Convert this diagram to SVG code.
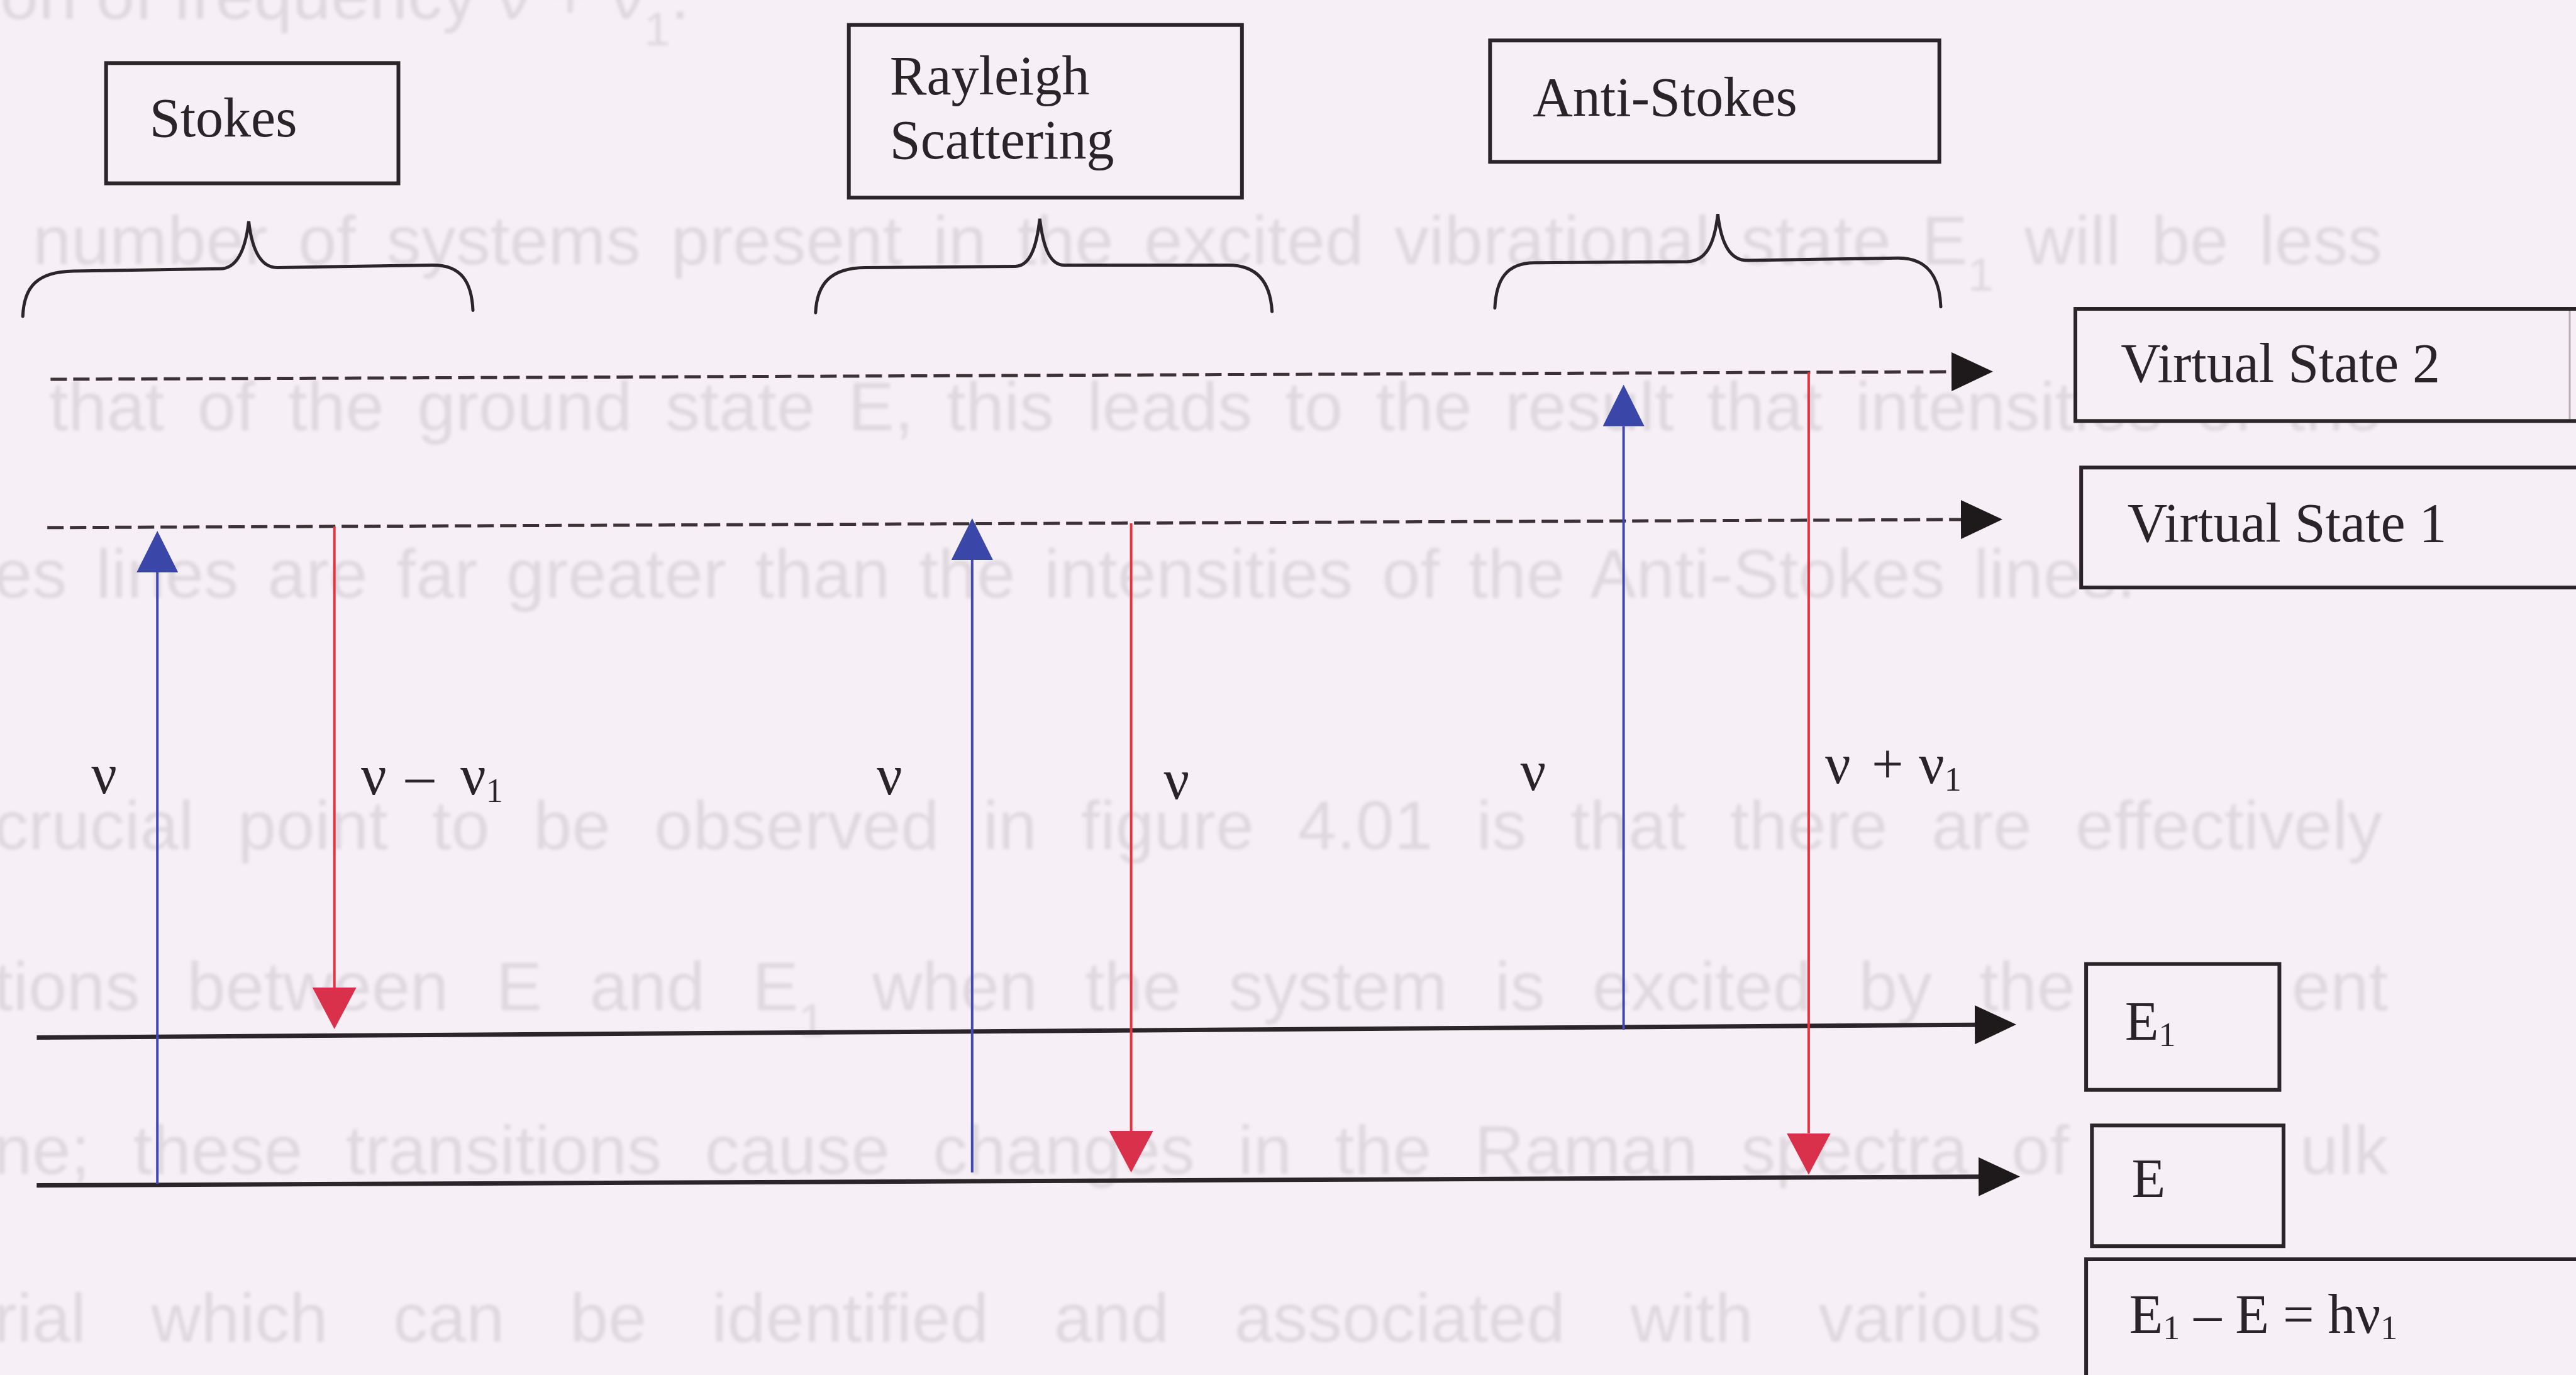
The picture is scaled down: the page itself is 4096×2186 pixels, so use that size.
<svg xmlns="http://www.w3.org/2000/svg" width="4096" height="2186" viewBox="0 0 4096 2186">
<style>
.bg{fill:#f6f0f6}
.ghost{font-family:"Liberation Sans",Arial,sans-serif;font-size:110px;fill:#dfd8df}
.bx{fill:#f6f0f6;stroke:#2b2428;stroke-width:6}
.lbl{font-family:"Liberation Serif","Times New Roman",serif;font-size:88px;fill:#2a2428}
.nu{font-family:"Liberation Serif","Times New Roman",serif;font-size:90px;fill:#2a2428}
.sub{font-size:54px}
.dash{stroke:#3a3236;stroke-width:5;stroke-dasharray:26 10;fill:none}
.lvl{stroke:#2b2428;stroke-width:7;fill:none}
.brace{stroke:#2b2428;stroke-width:5;fill:none;stroke-linecap:round}
.up{stroke:#4348b2;stroke-width:4;fill:none}
.dn{stroke:#e5333f;stroke-width:4;fill:none}
</style>
<defs>
<filter id="soft" x="-5%" y="-50%" width="110%" height="200%"><feGaussianBlur stdDeviation="2.5"/></filter>
<marker id="ak" markerUnits="userSpaceOnUse" markerWidth="66" markerHeight="62" refX="0" refY="31" orient="auto"><path d="M0,0 L66,31 L0,62 z" fill="#1e1a1c"/></marker>
<marker id="ab" markerUnits="userSpaceOnUse" markerWidth="66" markerHeight="66" refX="0" refY="33" orient="auto"><path d="M0,0 L66,33 L0,66 z" fill="#3a47a8"/></marker>
<marker id="ar" markerUnits="userSpaceOnUse" markerWidth="66" markerHeight="70" refX="0" refY="35" orient="auto"><path d="M0,0 L66,35 L0,70 z" fill="#d9304c"/></marker>
</defs>
<rect class="bg" x="0" y="0" width="4096" height="2186"/>

<g id="background-text" class="ghost" filter="url(#soft)">
<text x="0" y="30">on of frequency ν + ν<tspan baseline-shift="sub" font-size="75">1</tspan>.</text>
<text x="52" y="420" word-spacing="18" textLength="3736" lengthAdjust="spacing">number of systems present in the excited vibrational state E<tspan baseline-shift="sub" font-size="75">1</tspan> will be less</text>
<text x="78" y="684" word-spacing="22" textLength="3710" lengthAdjust="spacing">that of the ground state E, this leads to the result that intensities of the</text>
<text x="-10" y="950" word-spacing="15" textLength="3406" lengthAdjust="spacing">es lines are far greater than the intensities of the Anti-Stokes lines.</text>
<text x="-10" y="1350" word-spacing="39" textLength="3798" lengthAdjust="spacing">crucial point to be observed in figure 4.01 is that there are effectively</text>
<text x="-10" y="1606" word-spacing="45" textLength="3310" lengthAdjust="spacing">tions between E and E<tspan baseline-shift="sub" font-size="75">1</tspan> when the system is excited by the</text>
<text x="3644" y="1606">ent</text>
<text x="-10" y="1866" word-spacing="38" textLength="3300" lengthAdjust="spacing">ne; these transitions cause changes in the Raman spectra of</text>
<text x="3657" y="1866">ulk</text>
<text x="-10" y="2133" word-spacing="73" textLength="3256" lengthAdjust="spacing">rial which can be identified and associated with various</text>
</g>

<g id="braces">
<path class="brace" d="M36.3,503 C38,455 60,432 116.7,431 L350,427.3 C375,427 390,400 395.5,351.7 C401,400 416,425.4 441,425.4 L687,421.6 C735,421 750,450 752,493.4"/>
<path class="brace" d="M1296.8,497.2 C1299,450 1322,426 1374.5,425.4 L1614.4,423.5 C1637,423 1648,395 1653.3,347.9 C1659,395 1670,421.6 1692.3,421.6 L1951.5,421.6 C2000,421 2020,450 2022.6,495.3"/>
<path class="brace" d="M2376.9,489.7 C2379,445 2395,418 2439.9,417.8 L2682.9,415.9 C2712,415 2726,390 2731.4,340.3 C2737,390 2752,414 2778.7,414 L3017.7,410.2 C3065,410 3084,440 3086,487.8"/>
</g>

<g id="node-stokes">
<rect class="bx" x="168.7" y="100.3" width="464.8" height="191.2"/>
<text class="lbl" x="237.7" y="216.8">Stokes</text>
</g>
<g id="node-rayleigh">
<rect class="bx" x="1349.7" y="39.7" width="625.1" height="274.5"/>
<text class="lbl" x="1414.8" y="149.7">Rayleigh</text>
<text class="lbl" x="1414.8" y="251.8">Scattering</text>
</g>
<g id="node-antistokes">
<rect class="bx" x="2369.3" y="64.3" width="714.4" height="193"/>
<text class="lbl" x="2437.2" y="183.6">Anti-Stokes</text>
</g>
<g id="node-vs2">
<rect class="bx" x="3300" y="491" width="830" height="178.3"/>
<line x1="4086" y1="494" x2="4086" y2="666" stroke="#b8b0b6" stroke-width="3"/>
<text class="lbl" x="3372.2" y="607.1">Virtual State 2</text>
</g>
<g id="node-vs1">
<rect class="bx" x="3309.2" y="743.3" width="830" height="190.7"/>
<text class="lbl" x="3382.7" y="861">Virtual State 1</text>
</g>
<g id="node-e1">
<rect class="bx" x="3317.1" y="1532.6" width="307.3" height="200.1"/>
<text class="lbl" x="3378.7" y="1653.4">E<tspan class="sub" dy="10">1</tspan></text>
</g>
<g id="node-e">
<rect class="bx" x="3326.3" y="1789.3" width="304.6" height="191.9"/>
<text class="lbl" x="3389.4" y="1903.2">E</text>
</g>
<g id="node-eq">
<rect class="bx" x="3317.1" y="2002" width="830" height="260"/>
<text class="lbl" x="3385.4" y="2119.2">E<tspan class="sub" dy="10">1</tspan><tspan dy="-10"> – E = hν</tspan><tspan class="sub" dy="10">1</tspan></text>
</g>

<g id="connectors">
<line class="dash" x1="80.4" y1="603" x2="3103" y2="591" marker-end="url(#ak)"/>
<line class="dash" x1="75.2" y1="838.8" x2="3118" y2="826" marker-end="url(#ak)"/>
<line class="lvl" x1="58.5" y1="1649.6" x2="3140" y2="1629.2" marker-end="url(#ak)"/>
<line class="lvl" x1="58.3" y1="1884.6" x2="3146" y2="1870.8" marker-end="url(#ak)"/>
<line class="up" x1="250.2" y1="1882" x2="250.2" y2="910" marker-end="url(#ab)"/>
<line class="dn" x1="531.7" y1="837" x2="531.7" y2="1570" marker-end="url(#ar)"/>
<line class="up" x1="1545.8" y1="1864" x2="1545.8" y2="890" marker-end="url(#ab)"/>
<line class="dn" x1="1798.6" y1="832" x2="1798.6" y2="1798" marker-end="url(#ar)"/>
<line class="up" x1="2581.6" y1="1637" x2="2581.6" y2="677.5" marker-end="url(#ab)"/>
<line class="dn" x1="2875.9" y1="592" x2="2875.9" y2="1801.5" marker-end="url(#ar)"/>
</g>

<g id="labels">
<text class="nu" x="145.2" y="1261">ν</text>
<text class="nu" y="1263.3"><tspan x="574">ν</tspan><tspan x="645">–</tspan><tspan x="732">ν</tspan><tspan class="sub" dy="12">1</tspan></text>
<text class="nu" x="1394" y="1263">ν</text>
<text class="nu" x="1850.4" y="1270">ν</text>
<text class="nu" x="2417.6" y="1256.4">ν</text>
<text class="nu" y="1244.7"><tspan x="2902">ν</tspan><tspan x="2976">+</tspan><tspan x="3051">ν</tspan><tspan class="sub" dy="12">1</tspan></text>
</g>
</svg>
